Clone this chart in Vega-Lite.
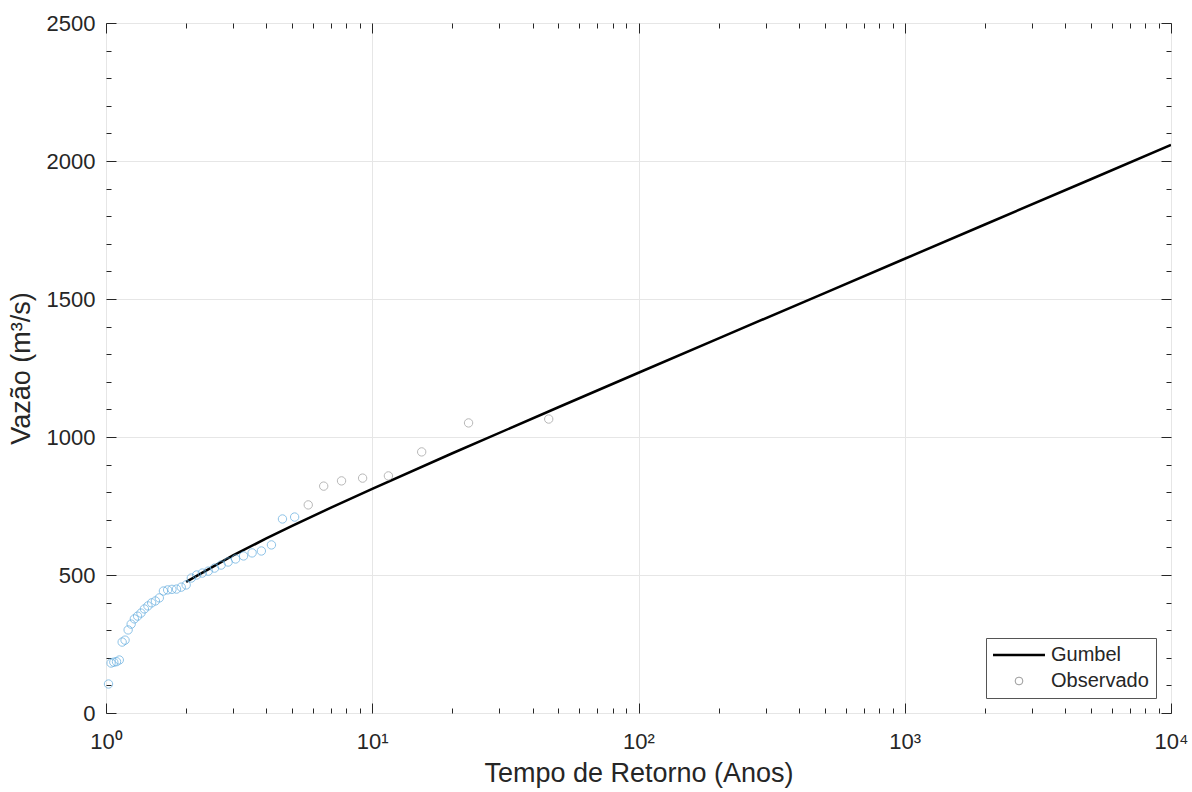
{
  "$schema": "https://vega.github.io/schema/vega-lite/v6.json",
  "width": 1065,
  "height": 690,
  "autosize": {"type": "none"},
  "padding": {"left": 106, "top": 23, "right": 21, "bottom": 79},
  "background": "white",
  "config": {
    "font": "Liberation Sans",
    "view": {"stroke": "#262626", "strokeWidth": 1},
    "axis": {
      "labelFont": "Liberation Sans",
      "titleFont": "Liberation Sans",
      "labelFontSize": 22,
      "titleFontSize": 27,
      "titleFontWeight": "normal",
      "labelColor": "#262626",
      "titleColor": "#262626",
      "tickColor": "#262626",
      "tickWidth": 1,
      "domain": false,
      "labelFlush": false,
      "labelOverlap": false,
      "gridColor": "#e6e6e6",
      "gridWidth": 1
    }
  },
  "datasets": {
    "gumbel": [
      {"T": 2, "Q": 475.0},
      {"T": 3, "Q": 571.0},
      {"T": 4, "Q": 632.4},
      {"T": 5, "Q": 677.9},
      {"T": 7, "Q": 744.1},
      {"T": 10, "Q": 812.2},
      {"T": 20, "Q": 941.1},
      {"T": 50, "Q": 1107.8},
      {"T": 100, "Q": 1232.8},
      {"T": 200, "Q": 1357.3},
      {"T": 500, "Q": 1521.6},
      {"T": 1000, "Q": 1645.8},
      {"T": 2000, "Q": 1769.9},
      {"T": 5000, "Q": 1933.9},
      {"T": 10000, "Q": 2058.0}
    ],
    "observado": [
      {"T": 46, "Q": 1065},
      {"T": 23, "Q": 1051},
      {"T": 15.333, "Q": 946},
      {"T": 11.5, "Q": 859},
      {"T": 9.2, "Q": 851},
      {"T": 7.667, "Q": 841},
      {"T": 6.571, "Q": 822},
      {"T": 5.75, "Q": 754},
      {"T": 5.111, "Q": 710},
      {"T": 4.6, "Q": 703},
      {"T": 4.182, "Q": 609},
      {"T": 3.833, "Q": 587},
      {"T": 3.538, "Q": 580},
      {"T": 3.286, "Q": 569},
      {"T": 3.067, "Q": 558},
      {"T": 2.875, "Q": 547},
      {"T": 2.706, "Q": 536},
      {"T": 2.556, "Q": 525},
      {"T": 2.421, "Q": 514},
      {"T": 2.3, "Q": 507},
      {"T": 2.19, "Q": 500},
      {"T": 2.091, "Q": 489},
      {"T": 2.0, "Q": 464},
      {"T": 1.917, "Q": 456},
      {"T": 1.84, "Q": 449},
      {"T": 1.769, "Q": 448},
      {"T": 1.704, "Q": 446},
      {"T": 1.643, "Q": 442},
      {"T": 1.586, "Q": 417},
      {"T": 1.533, "Q": 406},
      {"T": 1.484, "Q": 399},
      {"T": 1.4375, "Q": 388},
      {"T": 1.394, "Q": 377},
      {"T": 1.353, "Q": 362},
      {"T": 1.314, "Q": 351},
      {"T": 1.278, "Q": 341},
      {"T": 1.243, "Q": 322},
      {"T": 1.211, "Q": 301},
      {"T": 1.179, "Q": 264},
      {"T": 1.15, "Q": 257},
      {"T": 1.122, "Q": 192},
      {"T": 1.095, "Q": 186},
      {"T": 1.07, "Q": 184},
      {"T": 1.045, "Q": 181},
      {"T": 1.022, "Q": 105}
    ]
  },
  "resolve": {"axis": {"x": "independent", "y": "independent"}},
  "layer": [
    {
      "data": {"name": "gumbel"},
      "mark": {"type": "line", "color": "#000000", "strokeWidth": 2.5, "clip": true},
      "encoding": {
        "x": {
          "field": "T", "type": "quantitative",
          "scale": {"type": "log", "domain": [1, 10000], "nice": false},
          "axis": {
            "orient": "bottom",
            "title": "Tempo de Retorno (Anos)",
            "values": [1, 10, 100, 1000, 10000],
            "labelExpr": "'10' + ['⁰','¹','²','³','⁴'][round(log(datum.value) / LN10)]",
            "tickSize": -10,
            "labelPadding": 28,
            "titlePadding": 8,
            "grid": true
          }
        },
        "y": {
          "field": "Q", "type": "quantitative",
          "scale": {"domain": [0, 2500], "nice": false},
          "axis": {
            "orient": "left",
            "title": "Vazão (m³/s)",
            "format": "d",
            "values": [0, 500, 1000, 1500, 2000, 2500],
            "tickSize": -10,
            "labelPadding": 21,
            "titlePadding": 11,
            "grid": true
          }
        },
        "color": {
          "datum": "Gumbel",
          "scale": {"domain": ["Gumbel", "Observado"], "range": ["#000000", "#9a9a9a"]},
          "legend": {
            "title": null,
            "orient": "bottom-right",
            "offset": 15,
            "symbolSize": 2700,
            "symbolStrokeWidth": 2.5,
            "symbolOffset": 16,
            "labelFont": "Liberation Sans",
            "labelFontSize": 20,
            "labelColor": "#262626",
            "labelOffset": 22,
            "strokeColor": "#555555",
            "fillColor": "#ffffff",
            "padding": 7,
            "rowPadding": 6,
            "encode": {
              "symbols": {
                "update": {
                  "shape": {"signal": "datum.value === 'Gumbel' ? 'stroke' : 'circle'"},
                  "size": {"signal": "datum.value === 'Gumbel' ? 2700 : 60"},
                  "strokeWidth": {"signal": "datum.value === 'Gumbel' ? 2.5 : 1"},
                  "fill": {"value": "transparent"},
                  "stroke": {"signal": "datum.value === 'Gumbel' ? '#000000' : '#9a9a9a'"}
                }
              }
            }
          }
        }
      }
    },
    {
      "data": {"name": "observado"},
      "mark": {"type": "point", "filled": false, "size": 70, "strokeWidth": 1},
      "encoding": {
        "x": {
          "field": "T", "type": "quantitative",
          "axis": {
            "orient": "bottom",
            "title": null,
            "labels": false,
            "values": [2, 3, 4, 5, 6, 7, 8, 9, 20, 30, 40, 50, 60, 70, 80, 90, 200, 300, 400, 500, 600, 700, 800, 900, 2000, 3000, 4000, 5000, 6000, 7000, 8000, 9000],
            "tickSize": -5,
            "grid": false
          }
        },
        "y": {
          "field": "Q", "type": "quantitative",
          "axis": {
            "orient": "left",
            "title": null,
            "labels": false,
            "values": [100, 200, 300, 400, 600, 700, 800, 900, 1100, 1200, 1300, 1400, 1600, 1700, 1800, 1900, 2100, 2200, 2300, 2400],
            "tickSize": -5,
            "grid": false
          }
        },
        "color": {
          "condition": {"test": "datum.T < 5.5", "value": "#5fabdf"},
          "datum": "Observado"
        }
      }
    },
    {
      "data": {"name": "gumbel"},
      "mark": {"type": "line", "opacity": 0},
      "encoding": {
        "x": {
          "field": "T", "type": "quantitative",
          "axis": {"orient": "top", "title": null, "labels": false, "values": [1, 10, 100, 1000, 10000], "tickSize": -10, "grid": false}
        },
        "y": {
          "field": "Q", "type": "quantitative",
          "axis": {"orient": "right", "title": null, "labels": false, "values": [0, 500, 1000, 1500, 2000, 2500], "tickSize": -10, "grid": false}
        }
      }
    },
    {
      "data": {"name": "gumbel"},
      "mark": {"type": "line", "opacity": 0},
      "encoding": {
        "x": {
          "field": "T", "type": "quantitative",
          "axis": {
            "orient": "top", "title": null, "labels": false,
            "values": [2, 3, 4, 5, 6, 7, 8, 9, 20, 30, 40, 50, 60, 70, 80, 90, 200, 300, 400, 500, 600, 700, 800, 900, 2000, 3000, 4000, 5000, 6000, 7000, 8000, 9000],
            "tickSize": -5, "grid": false
          }
        },
        "y": {
          "field": "Q", "type": "quantitative",
          "axis": {
            "orient": "right", "title": null, "labels": false,
            "values": [100, 200, 300, 400, 600, 700, 800, 900, 1100, 1200, 1300, 1400, 1600, 1700, 1800, 1900, 2100, 2200, 2300, 2400],
            "tickSize": -5, "grid": false
          }
        }
      }
    }
  ]
}
